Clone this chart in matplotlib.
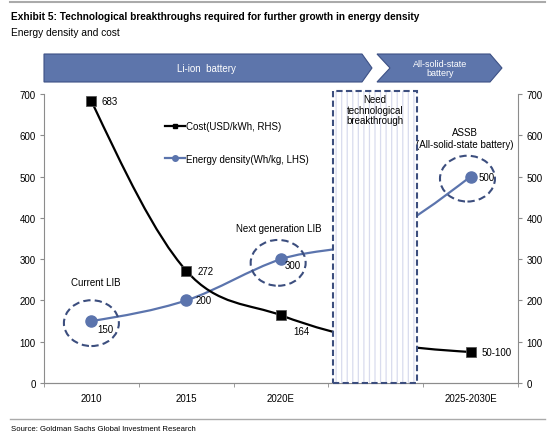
import numpy as np
import matplotlib
matplotlib.use('Agg')
import matplotlib.pyplot as plt
from matplotlib.path import Path
from matplotlib.patches import PathPatch, Rectangle, Ellipse, Polygon
from matplotlib.lines import Line2D

# data
categories = ['2010', '2015', '2020E', '', '2025-2030E']
energy = [150, 200, 300, 350, 500]        # Wh/kg, LHS (4th point hidden by the box)
cost = [683, 272, 164, 100, 75]           # USD/kWh, RHS (4th point hidden by the box)
energy_labels = ['150', '200', '300', '', '500']
cost_labels = ['683', '272', '164', '', '50-100']
shown = [0, 1, 2, 4]

W, H = 554, 439
plt.rcParams['font.family'] = ['Liberation Sans', 'DejaVu Sans']
plt.rcParams['font.size'] = 7
plt.rcParams['hatch.linewidth'] = 0.9
plt.rcParams['hatch.color'] = '#d9dcee'
narrow = ['Liberation Sans Narrow', 'Liberation Sans', 'DejaVu Sans']

blue = '#5b74ad'
navy = '#3c4e7e'
grey = '#8c8c8c'


def fx(px):
    return px / W


def fy(py):
    return 1 - py / H


def smooth_path(xs, ys):
    # excel-like smoothed line through the points (cubic bezier segments)
    pts = np.column_stack([xs, ys]).astype(float)
    n = len(pts)
    tang = np.zeros_like(pts)
    for i in range(1, n - 1):
        tang[i] = (pts[i + 1] - pts[i - 1]) / 2
    tang[0] = (3 * (pts[1] - pts[0]) - tang[1]) / 2
    tang[-1] = (3 * (pts[-1] - pts[-2]) - tang[-2]) / 2
    verts = [pts[0]]
    codes = [Path.MOVETO]
    for i in range(n - 1):
        verts += [pts[i] + tang[i] / 3, pts[i + 1] - tang[i + 1] / 3, pts[i + 1]]
        codes += [Path.CURVE4] * 3
    return Path(verts, codes)


fig = plt.figure(figsize=(W / 100, H / 100), dpi=100)
ax = fig.add_axes([fx(44), fy(384), fx(518) - fx(44), fy(95) - fy(384)])
ax2 = ax.twinx()

x = np.arange(len(categories))
for a in (ax, ax2):
    a.set_xlim(-0.5, len(categories) - 0.5)
    a.set_ylim(0, 700)
    a.set_yticks(range(0, 701, 100))
    a.spines['top'].set_visible(False)
    for s in ('left', 'right', 'bottom'):
        a.spines[s].set_color(grey)
    a.tick_params(axis='y', length=3, color=grey, pad=3, labelsize=7)

ax.spines['right'].set_visible(False)
ax2.spines['left'].set_visible(False)
ax.set_xticks(x)
ax.set_xticklabels(categories)
ax.set_xticks(np.arange(-0.5, len(categories)), minor=True)
ax.tick_params(axis='x', which='major', length=0, pad=7, labelsize=7)
ax.tick_params(axis='x', which='minor', length=3, color=grey)

# energy density (LHS)
ax.add_patch(PathPatch(smooth_path(x, energy), fill=False, edgecolor=blue, lw=1.6, zorder=2))
ax.plot(x[shown], np.array(energy)[shown], ls='none', marker='o', ms=8, color=blue, zorder=4)

# cost (RHS)
ax2.add_patch(PathPatch(smooth_path(x, cost), fill=False, edgecolor='black', lw=1.6, zorder=2))
ax2.plot(x[shown], np.array(cost)[shown], ls='none', marker='s', ms=7.5, color='black',
         markeredgecolor='#555555', markeredgewidth=0.6, zorder=4)

# "need technological breakthrough" box
box_x0, box_x1, box_top = 2.55, 3.435, 708
ax2.add_patch(Rectangle((box_x0, 0), box_x1 - box_x0, box_top, facecolor='white',
                        edgecolor='#d9dcee', hatch='|||', lw=0, zorder=3, clip_on=False))
ax2.add_patch(Rectangle((box_x0, 0), box_x1 - box_x0, box_top, fill=False, edgecolor=navy,
                        lw=1.5, linestyle=(0, (3, 1.6)), zorder=5, clip_on=False))
ax2.text((box_x0 + box_x1) / 2, 662, 'Need\ntechnological\nbreakthrough', ha='center',
         va='center', fontsize=7, linespacing=1.1, zorder=6)

# dashed circles
for cx, cy in [(0.0, 145), (1.97, 291), (3.967, 495)]:
    ax2.add_patch(Ellipse((cx, cy), 0.58, 111, fill=False, edgecolor=navy, lw=1.5,
                          linestyle=(0, (3.5, 2)), zorder=5))

ax2.text(0.05, 245, 'Current LIB', ha='center', va='center', fontsize=7)
ax2.text(1.98, 375, 'Next generation LIB', ha='center', va='center', fontsize=7)
ax2.text(3.94, 594, 'ASSB\n(All-solid-state battery)', ha='center', va='center',
         fontsize=7, linespacing=1.2)

# value labels (offsets in points)
e_off = {0: (4.5, -6), 1: (7, 0), 2: (3, -4.5), 4: (6, 0)}
c_off = {0: (7, 0), 1: (8, 0), 2: (9, -11), 4: (8, 0)}
for i in shown:
    ax2.annotate(energy_labels[i], (x[i], energy[i]), xytext=e_off[i], textcoords='offset points',
                 ha='left', va='center', fontsize=7, zorder=6)
    ax2.annotate(cost_labels[i], (x[i], cost[i]), xytext=c_off[i], textcoords='offset points',
                 ha='left', va='center', fontsize=7, zorder=6)

# legend
handles = [Line2D([], [], color='black', lw=1.6, marker='s', ms=3),
           Line2D([], [], color=blue, lw=1.6, marker='o', ms=4)]
ax2.legend(handles, ['Cost(USD/kWh, RHS)', 'Energy density(Wh/kg, LHS)'], loc='upper left',
           bbox_to_anchor=(0.255, 0.905), frameon=False, fontsize=7, handlelength=2.1,
           handletextpad=0.1, labelspacing=2.3, borderpad=0, borderaxespad=0)

# header arrows
fig.add_artist(Polygon([(fx(44), fy(55)), (fx(362), fy(55)), (fx(372), fy(69)), (fx(362), fy(83)),
                        (fx(44), fy(83))], closed=True, transform=fig.transFigure,
                       facecolor='#5d75ab', edgecolor='#3d5185', lw=0.8))
fig.add_artist(Polygon([(fx(377), fy(55)), (fx(490), fy(55)), (fx(502), fy(69)), (fx(490), fy(83)),
                        (fx(377), fy(83)), (fx(390), fy(69))], closed=True,
                       transform=fig.transFigure, facecolor='#5d75ab', edgecolor='#3d5185', lw=0.8))
fig.text(fx(206), fy(69), 'Li-ion  battery', color='white', ha='center', va='center', fontsize=7)
fig.text(fx(440), fy(69), 'All-solid-state\nbattery', color='white', ha='center', va='center',
         fontsize=6.5, linespacing=1.1)

# title, subtitle, source and rules
fig.add_artist(Line2D([fx(10), fx(545)], [fy(3), fy(3)], color='#aaaaaa', lw=1.5))
fig.text(fx(11), fy(17), 'Exhibit 5: Technological breakthroughs required for further growth in energy density',
         family=narrow, fontweight='bold', fontsize=7.3, va='center')
fig.text(fx(11), fy(33), 'Energy density and cost', family=narrow, fontsize=7.3, va='center')
fig.add_artist(Line2D([fx(10), fx(545)], [fy(420), fy(420)], color='#aaaaaa', lw=1))
fig.text(fx(11), fy(430), 'Source: Goldman Sachs Global Investment Research', family=narrow,
         fontsize=5.6, va='center')

fig.savefig('out.png', dpi=100)
